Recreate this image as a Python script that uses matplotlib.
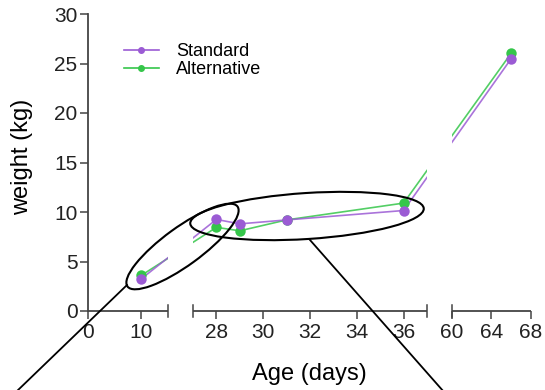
import numpy as np
import matplotlib
matplotlib.use("Agg")
import matplotlib.pyplot as plt
from matplotlib.patches import Ellipse
from matplotlib.lines import Line2D
from matplotlib.path import Path
from matplotlib import transforms

plt.rcParams["font.family"] = ["Liberation Sans", "DejaVu Sans"]

# data
age = [10, 28, 29, 31, 36, 66]
standard = [3.25, 9.25, 8.8, 9.2, 10.15, 25.5]
alternative = [3.6, 8.45, 8.1, 9.2, 10.9, 26.05]

xticks = [0, 10, 28, 30, 32, 34, 36, 60, 64, 68]
yticks = [0, 5, 10, 15, 20, 25, 30]
segments = [(0, 15), (27, 37), (60, 68)]

purple = "#9B5BD4"
green = "#35C64A"
axis_col = "#444444"

# piecewise x scale: three segments with gaps between them
xp = [-100, 0, 15, 27, 37, 60, 68, 168]
up = [-537, 0, 80, 105, 339, 364, 443, 1418]


def fwd(x):
    return np.interp(x, xp, up)


def inv(u):
    return np.interp(u, up, xp)


fig = plt.figure(figsize=(5.45, 3.9), dpi=100)
ax = fig.add_axes([88 / 545, (390 - 311) / 390, 443 / 545, 297 / 390])
ax.set_xscale("function", functions=(fwd, inv))
ax.set_xlim(0, 68)
ax.set_ylim(0, 30)

# clip the data lines to the three segments
blend = transforms.blended_transform_factory(ax.transData, ax.transAxes)
verts, codes = [], []
for a, b in segments:
    verts += [(a, -0.2), (b, -0.2), (b, 1.2), (a, 1.2), (a, -0.2)]
    codes += [Path.MOVETO, Path.LINETO, Path.LINETO, Path.LINETO, Path.CLOSEPOLY]
clip = Path(verts, codes)

for ys, col in [(alternative, green), (standard, purple)]:
    ln, = ax.plot(age, ys, color=col, lw=1.2, alpha=0.85)
    ln.set_clip_path(clip, blend)
for ys, col in [(alternative, green), (standard, purple)]:
    ax.plot(age, ys, ls="none", marker="o", ms=7.5, color=col, mec="none")

# axes styling
for s in ["top", "right", "bottom"]:
    ax.spines[s].set_visible(False)
ax.spines["left"].set_color(axis_col)
ax.spines["left"].set_linewidth(1.3)
ax.set_xticks(xticks)
ax.set_xticklabels([str(t) for t in xticks])
ax.xaxis.set_minor_locator(matplotlib.ticker.NullLocator())
ax.set_yticks(yticks)
ax.tick_params(axis="both", direction="out", length=5.5, width=1.1,
               colors=axis_col, labelcolor="#222222", labelsize=15)
ax.tick_params(axis="x", pad=3)
ax.tick_params(axis="y", pad=2)

for a, b in segments:
    ax.plot([a, b], [0, 0], color=axis_col, lw=1.3, clip_on=False,
            solid_capstyle="butt")
for x in [15, 27, 37, 60]:
    ax.plot([x, x], [-0.6, 0.6], color=axis_col, lw=1.1, clip_on=False)

ax.set_xlabel("Age (days)", fontsize=17, labelpad=15)
ax.set_ylabel("weight (kg)", fontsize=17)
ax.yaxis.set_label_coords(-0.124, 0.52)

handles = [Line2D([], [], color=purple, marker="o", ms=4, lw=1.2),
           Line2D([], [], color=green, marker="o", ms=4, lw=1.2)]
ax.legend(handles, ["Standard", "Alternative"], loc="upper left",
          bbox_to_anchor=(0.064, 0.925), frameon=False, fontsize=13,
          handlelength=1.95, handletextpad=0.95, labelspacing=0.05,
          borderaxespad=0)

# callout ellipses and lines in image pixel coordinates (y down)
pix = transforms.Affine2D().scale(0.01, -0.01).translate(0, 3.9) + fig.dpi_scale_trans
fig.add_artist(Ellipse((182.5, 246.5), 136, 38, angle=-36, fill=False,
                       ec="black", lw=1.5, transform=pix))
fig.add_artist(Ellipse((307, 216), 234, 46, angle=-3.7, fill=False,
                       ec="black", lw=1.5, transform=pix))
fig.add_artist(Line2D([127, 16], [285, 392], color="black", lw=1.3,
                      transform=pix))
fig.add_artist(Line2D([310, 444], [240, 392], color="black", lw=1.3,
                      transform=pix))

fig.savefig("out.png", dpi=100)
